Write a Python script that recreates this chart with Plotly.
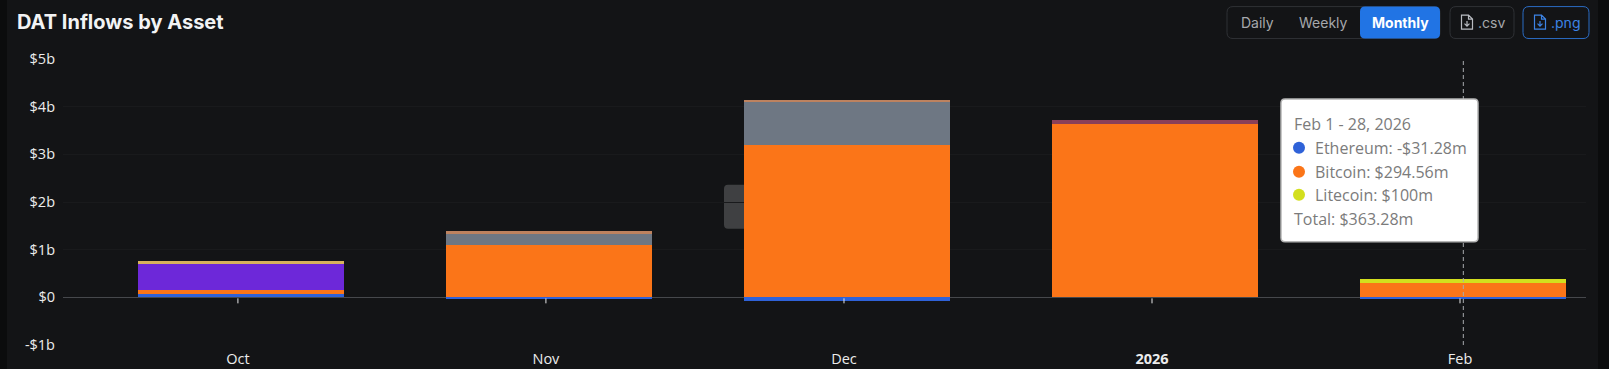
import plotly.graph_objects as go

W, H = 1609, 369
ML, MR, MT, MB = 63, 23, 59, 23.5

bar_dates = ["2025-10-01 08:00", "2025-11-01 08:00", "2025-12-01 08:00", "2026-01-01 08:00", "2026-02-01 08:00"]
tick_dates = ["2025-10-01", "2025-11-01", "2025-12-01", "2026-01-01", "2026-02-01"]
tick_labels = ["Oct", "Nov", "Dec", "<b>2026</b>", "Feb"]
y_ticks = [-1000, 0, 1000, 2000, 3000, 4000, 5000]
y_labels = ["-$1b", "$0", "$1b", "$2b", "$3b", "$4b", "$5b"]

ethereum = [70, -40, -80, 0, -31.28]
bitcoin = [90, 1100, 3200, 3640, 294.56]
solana = [530, 0, 0, 0, 0]
other = [0, 220, 890, 0, 0]
bnb = [80, 0, 0, 0, 0]
hype = [0, 80, 50, 0, 0]
sui = [0, 0, 0, 70, 0]
litecoin = [0, 0, 0, 0, 100]

C_ETH, C_BTC, C_LTC = "#2f62d8", "#fb7518", "#d3df1e"
series = [
    ("Ethereum", ethereum, C_ETH),
    ("Bitcoin", bitcoin, C_BTC),
    ("Solana", solana, "#6d28d9"),
    ("Other", other, "#6e7783"),
    ("BNB", bnb, "#d8b25c"),
    ("Hyperliquid", hype, "#bd825f"),
    ("Sui", sui, "#8a3f58"),
    ("Litecoin", litecoin, C_LTC),
]

tooltip_title = "Feb 1 - 28, 2026"
tooltip_rows = [("Ethereum", ethereum[4], C_ETH), ("Bitcoin", bitcoin[4], C_BTC), ("Litecoin", litecoin[4], C_LTC)]
tooltip_total = "$363.28m"


def fmt(v):
    s = f"{abs(v):.2f}".rstrip("0").rstrip(".")
    return ("-" if v < 0 else "") + "$" + s + "m"


def px(x):
    return (x - ML) / (W - ML - MR)


def py(y):
    return 1 - (y - MT) / (H - MT - MB)


def rrect(x0, y0, x1, y1, r=5, **kw):
    rx, ry = r / (W - ML - MR), r / (H - MT - MB)
    a, b, c, d = px(x0), px(x1), py(y0), py(y1)
    p = (f"M {a+rx} {c} L {b-rx} {c} Q {b} {c} {b} {c-ry} L {b} {d+ry} Q {b} {d} {b-rx} {d} "
         f"L {a+rx} {d} Q {a} {d} {a} {d+ry} L {a} {c-ry} Q {a} {c} {a+rx} {c} Z")
    return dict(type="path", xref="paper", yref="paper", path=p, **kw)


def label(x, y, text, color, size=14, font="Inter", anchor="center"):
    return dict(xref="paper", yref="paper", x=px(x), y=py(y), text=text, showarrow=False, xanchor=anchor,
                yanchor="middle", font=dict(family=font, size=size, color=color))


def doc_icon(cx, cy, color):
    a, b, c, d = px(cx - 5.5), px(cx + 5.5), py(cy - 7), py(cy + 7)
    m, n = px(cx + 1.5), py(cy - 3)
    mid, up, lo = px(cx), py(cy - 1), py(cy + 4)
    l, r, t = px(cx - 2.5), px(cx + 2.5), py(cy + 1.5)
    path = (f"M {a} {c} L {m} {c} L {b} {n} L {b} {d} L {a} {d} Z M {m} {c} L {m} {n} L {b} {n} "
            f"M {mid} {up} L {mid} {lo} M {l} {t} L {mid} {lo} L {r} {t}")
    return dict(type="path", xref="paper", yref="paper", path=path, line=dict(color=color, width=1.2))


fig = go.Figure()
for name, vals, color in series:
    fig.add_bar(x=bar_dates, y=vals, name=name, marker=dict(color=color, line=dict(width=0)),
                width=20.7 * 86400000, showlegend=False, hoverinfo="skip")

shapes = [
    rrect(7, -5, 1598, 375, r=1, fillcolor="#131416", line=dict(width=0), layer="below"),
    rrect(724, 185, 750, 229, r=4, fillcolor="#3f4042", line=dict(width=0), layer="below"),
    rrect(1227, 6.5, 1440, 38.5, r=6, fillcolor="rgba(0,0,0,0)", line=dict(color="#2f3135", width=1)),
    rrect(1360, 6.5, 1440, 38.5, r=5, fillcolor="#2174e4", line=dict(width=0)),
    rrect(1450, 6.5, 1514, 38.5, r=6, fillcolor="rgba(0,0,0,0)", line=dict(color="#2f3135", width=1)),
    rrect(1523, 6.5, 1589, 38.5, r=6, fillcolor="rgba(0,0,0,0)", line=dict(color="#2b6cc4", width=1)),
    doc_icon(1467, 22, "#b9bcc2"),
    doc_icon(1540, 22, "#3d84e6"),
]
for d in tick_dates:
    shapes.append(dict(type="line", xref="x", yref="y", x0=d, x1=d, ysizemode="pixel", yanchor=0, y0=-1, y1=-6,
                       line=dict(color="#e8e8e8", width=1)))
shapes.append(dict(type="line", xref="x", yref="paper", x0="2026-02-01 08:00", x1="2026-02-01 08:00", y0=0, y1=1,
                   line=dict(color="#a9abae", width=1, dash="4px,3px")))
shapes.append(rrect(1281, 99, 1478, 242, r=4, fillcolor="#ffffff", line=dict(color="#b5b5b5", width=1.5)))

annotations = [
    label(15, 22, "<b>DAT Inflows by Asset</b>", "#f2f3f4", 20, anchor="left"),
    label(1257, 22, "Daily", "#a6a8ac"),
    label(1323, 22, "Weekly", "#a6a8ac"),
    label(1400, 22, "<b>Monthly</b>", "#ffffff"),
    label(1491, 22, ".csv", "#a6a8ac"),
    label(1565, 22, ".png", "#3d84e6"),
    label(1292, 124, tooltip_title, "#7b7b7b", 16, "Open Sans", "left"),
]
row_y = [148, 172, 195]
for (name, val, color), y in zip(tooltip_rows, row_y):
    annotations.append(label(1312.5, y, f"{name}: {fmt(val)}", "#7b7b7b", 16, "Open Sans", "left"))
    shapes.append(dict(type="circle", xref="paper", yref="paper", x0=px(1293), x1=px(1305), y0=py(y + 6), y1=py(y - 6),
                       fillcolor=color, line=dict(width=0)))
annotations.append(label(1292, 219, f"Total: {tooltip_total}", "#7b7b7b", 16, "Open Sans", "left"))

fig.update_layout(
    width=W, height=H, autosize=False, barmode="relative", bargap=0,
    margin=dict(l=ML, r=MR, t=MT, b=MB, pad=0),
    paper_bgcolor="#0b0c0d", plot_bgcolor="rgba(0,0,0,0)",
    shapes=shapes, annotations=annotations,
    font=dict(family="Open Sans", color="#ececec", size=14.5),
    xaxis=dict(type="date", range=["2025-09-13 09:30", "2026-02-13 16:20"], tickmode="array", automargin=False,
               tickvals=tick_dates, ticktext=tick_labels, showgrid=False, zeroline=False, showline=False,
               ticks="", ticklabelstandoff=3, tickfont=dict(size=14.5, color="#ececec", family="Open Sans")),
    yaxis=dict(range=[-1000, 5000], tickmode="array", tickvals=y_ticks, ticktext=y_labels, automargin=False,
               gridcolor="#191a1c", gridwidth=1, zeroline=True, zerolinecolor="#46484c", zerolinewidth=1,
               showline=False, ticks="", ticklabelstandoff=7, tickfont=dict(size=14.5, color="#ececec", family="Open Sans")),
)
fig.write_html("out.html", config=dict(displayModeBar=False),
               post_script="document.body.style.margin='0';document.body.style.background='#0b0c0d';document.documentElement.style.overflow='hidden';")
